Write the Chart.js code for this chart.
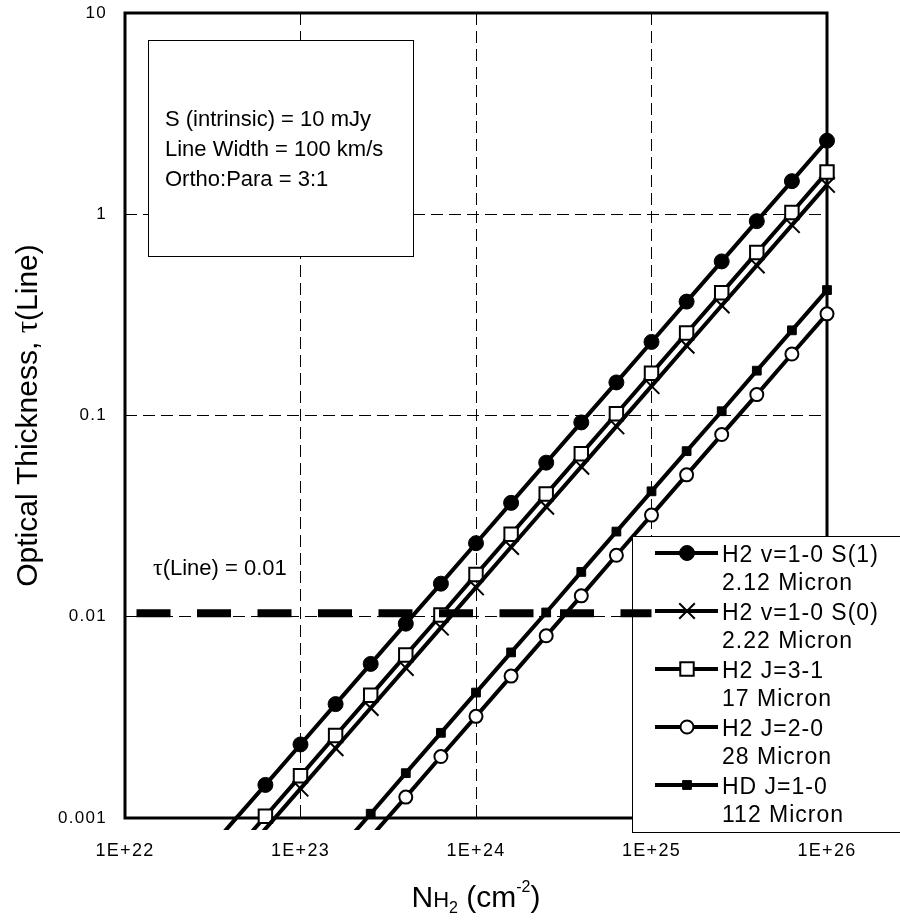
<!DOCTYPE html>
<html>
<head>
<meta charset="utf-8">
<script src="https://cdn.jsdelivr.net/npm/chart.js@4/dist/chart.umd.min.js"></script>
<style>
html,body{margin:0;padding:0;background:#fff;}
#wrap{width:900px;height:920px;position:relative;}
</style>
</head>
<body>
<div id="wrap"><canvas id="c" width="900" height="920"></canvas></div>
<script>
// ---- data ----
const columnDensity = [2.512e22, 3.981e22, 6.310e22, 1.000e23, 1.585e23, 2.512e23, 3.981e23, 6.310e23,
  1.000e24, 1.585e24, 2.512e24, 3.981e24, 6.310e24, 1.000e25, 1.585e25, 2.512e25, 3.981e25, 6.310e25, 1.000e26];
const tauS1  = [0.000583, 0.000924, 0.00146, 0.00232, 0.00368, 0.00583, 0.00924, 0.0146, 0.0232, 0.0368,
  0.0583, 0.0924, 0.146, 0.232, 0.368, 0.583, 0.924, 1.46, 2.32];
const tauS0  = [null, 0.000557, 0.000883, 0.00140, 0.00222, 0.00352, 0.00557, 0.00883, 0.0140, 0.0222,
  0.0352, 0.0557, 0.0883, 0.140, 0.222, 0.352, 0.557, 0.883, 1.40];
const tauJ31 = [null, 0.000645, 0.00102, 0.00162, 0.00257, 0.00407, 0.00645, 0.0102, 0.0162, 0.0257,
  0.0407, 0.0645, 0.102, 0.162, 0.257, 0.407, 0.645, 1.02, 1.62];
const tauJ20 = [null, null, null, null, null, 0.000804, 0.00127, 0.00202, 0.0032, 0.00507,
  0.00804, 0.0127, 0.0202, 0.032, 0.0507, 0.0804, 0.127, 0.202, 0.32];
const tauHD  = [null, null, null, null, 0.000665, 0.00105, 0.00167, 0.00265, 0.0042, 0.00665,
  0.0105, 0.0167, 0.0265, 0.042, 0.0665, 0.105, 0.167, 0.265, 0.42];
const seriesLabels = [
  ["H2 v=1-0 S(1)", "2.12 Micron"],
  ["H2 v=1-0 S(0)", "2.22 Micron"],
  ["H2 J=3-1", "17 Micron"],
  ["H2 J=2-0", "28 Micron"],
  ["HD J=1-0", "112 Micron"]
];
const thresholdN = [1e22, 1e25];
const thresholdTau = [0.0104, 0.0104];
const thresholdLabel = "(Line) = 0.01";
const xTicks = [1e22, 1e23, 1e24, 1e25, 1e26];
const xTickLabels = ["1E+22", "1E+23", "1E+24", "1E+25", "1E+26"];
const yTicks = [0.001, 0.01, 0.1, 1, 10];
const yTickLabels = ["0.001", "0.01", "0.1", "1", "10"];
const infoLines = ["S (intrinsic) = 10 mJy", "Line Width = 100 km/s", "Ortho:Para = 3:1"];
const yTitleParts = ["Optical Thickness, ", "\u03C4", "(Line)"];

// ---- styles ----
const SANS = "'Liberation Sans', Arial, sans-serif";
const SERIF = "'Liberation Serif', 'Times New Roman', serif";
const markerStyles = [
  {pointStyle: 'circle',   radius: 7.5, bg: '#000', bw: 1},
  {pointStyle: 'crossRot', radius: 11, bg: '#000', bw: 2},
  {pointStyle: 'rect',     radius: 9.5, bg: '#fff', bw: 2},
  {pointStyle: 'circle',   radius: 6.5, bg: '#fff', bw: 2},
  {pointStyle: 'rect',     radius: 6.2, bg: '#000', bw: 1}
];
const seriesValues = [tauS1, tauS0, tauJ31, tauJ20, tauHD];

const datasets = seriesValues.map((vals, i) => {
  const m = markerStyles[i];
  return {
    label: seriesLabels[i].join(' '),
    data: columnDensity.map((n, k) => ({x: n, y: vals[k]})),
    borderColor: '#000',
    borderWidth: 4,
    backgroundColor: m.bg,
    pointStyle: m.pointStyle,
    pointRadius: ctx => (ctx.raw && ctx.raw.y !== null && ctx.raw.y < 0.001) ? 0 : m.radius,
    pointBorderWidth: m.bw,
    pointBorderColor: '#000',
    pointBackgroundColor: m.bg,
    tension: 0,
    order: 1,
    clip: {left: 0, top: 0, right: 10, bottom: 12}
  };
});
const thresholdIndex = datasets.length;
datasets.push({
  label: 'threshold',
  data: thresholdN.map((n, k) => ({x: n, y: thresholdTau[k]})),
  borderColor: '#000',
  borderWidth: 8,
  borderDash: [34, 26.5],
  borderDashOffset: 49,
  pointRadius: 0,
  order: 0,
  clip: {left: 0, top: 0, right: 0, bottom: 0}
});

function drawLegend(chart) {
  const ctx = chart.ctx;
  ctx.save();
  ctx.fillStyle = '#fff';
  ctx.fillRect(632, 536, 290, 296);
  ctx.strokeStyle = '#000';
  ctx.lineWidth = 1;
  ctx.strokeRect(632.5, 536.5, 290, 296);
  for (let i = 0; i < seriesLabels.length; i++) {
    const y = 553 + i * 58;
    const m = markerStyles[i];
    ctx.beginPath();
    ctx.strokeStyle = '#000';
    ctx.lineWidth = 4;
    ctx.setLineDash([]);
    ctx.moveTo(655, y);
    ctx.lineTo(718, y);
    ctx.stroke();
    ctx.fillStyle = m.bg;
    ctx.strokeStyle = '#000';
    ctx.lineWidth = m.bw;
    Chart.helpers.drawPoint(ctx, {pointStyle: m.pointStyle, radius: m.radius, rotation: 0, borderWidth: m.bw}, 687, y);
    ctx.fillStyle = '#000';
    ctx.font = '23px ' + SANS;
    ctx.letterSpacing = '1px';
    ctx.textAlign = 'left';
    ctx.textBaseline = 'alphabetic';
    ctx.fillText(seriesLabels[i][0], 722, y + 9);
    ctx.fillText(seriesLabels[i][1], 722, y + 37);
  }
  ctx.restore();
}

const decorPlugin = {
  id: 'decor',
  beforeDraw(chart) {
    // slightly wider spacing for the tick labels, as in the original
    chart.ctx.letterSpacing = '1.3px';
  },
  beforeDatasetsDraw(chart) {
    const ctx = chart.ctx;
    ctx.letterSpacing = '0px';
    const a = chart.chartArea;
    ctx.save();
    // info box
    ctx.fillStyle = '#fff';
    ctx.fillRect(148, 40, 265, 216);
    ctx.strokeStyle = '#000';
    ctx.lineWidth = 1;
    ctx.strokeRect(148.5, 40.5, 265, 216);
    ctx.fillStyle = '#000';
    ctx.font = '22px ' + SANS;
    ctx.textAlign = 'left';
    ctx.textBaseline = 'alphabetic';
    infoLines.forEach((t, i) => ctx.fillText(t, 165, 126 + i * 30));
    // threshold annotation
    ctx.font = '24px ' + SERIF;
    ctx.fillText('\u03C4', 153, 575);
    const tw = ctx.measureText('\u03C4').width;
    ctx.font = '22px ' + SANS;
    ctx.fillText(thresholdLabel, 153 + tw, 575);
    // frame
    ctx.strokeStyle = '#000';
    ctx.lineWidth = 3;
    ctx.strokeRect(a.left, a.top, a.right - a.left, a.bottom - a.top);
    ctx.restore();
  },
  beforeDatasetDraw(chart, args) {
    if (args.index === thresholdIndex) drawLegend(chart);
  },
  afterDraw(chart) {
    const ctx = chart.ctx;
    const a = chart.chartArea;
    ctx.save();
    ctx.letterSpacing = '0px';
    ctx.fillStyle = '#000';
    ctx.textBaseline = 'alphabetic';
    // y title (rotated)
    const fonts = ['30px ' + SANS, '31px ' + SERIF, '30px ' + SANS];
    let widths = yTitleParts.map((t, i) => { ctx.font = fonts[i]; return ctx.measureText(t).width; });
    const total = widths.reduce((s, w) => s + w, 0);
    ctx.translate(37, (a.top + a.bottom) / 2);
    ctx.rotate(-Math.PI / 2);
    ctx.textAlign = 'left';
    let px = -total / 2;
    yTitleParts.forEach((t, i) => { ctx.font = fonts[i]; ctx.fillText(t, px, 0); px += widths[i]; });
    ctx.setTransform(1, 0, 0, 1, 0, 0);
    // x title: N H2 (cm-2)
    const parts = [
      {t: 'N', f: '30px ' + SANS, dy: 0},
      {t: 'H', f: '22px ' + SANS, dy: 0},
      {t: '2', f: '16px ' + SANS, dy: 6},
      {t: ' (cm', f: '30px ' + SANS, dy: 0},
      {t: '-2', f: '16px ' + SANS, dy: -15},
      {t: ')', f: '30px ' + SANS, dy: 0}
    ];
    let tot = 0;
    parts.forEach(p => { ctx.font = p.f; p.w = ctx.measureText(p.t).width; tot += p.w; });
    let x = (a.left + a.right) / 2 - tot / 2;
    parts.forEach(p => { ctx.font = p.f; ctx.fillText(p.t, x, 907 + p.dy); x += p.w; });
    ctx.restore();
  }
};

const gridColor = (ticksArr) => (c) => {
  const v = c.tick ? c.tick.value : null;
  if (v === ticksArr[0] || v === ticksArr[ticksArr.length - 1]) return 'rgba(0,0,0,0)';
  return '#000';
};

new Chart(document.getElementById('c'), {
  type: 'line',
  data: {datasets},
  options: {
    responsive: false,
    animation: false,
    devicePixelRatio: 1,
    layout: {padding: {left: 0, right: 73, top: 12, bottom: 0}},
    plugins: {legend: {display: false}, tooltip: {enabled: false}},
    scales: {
      x: {
        type: 'logarithmic',
        min: 1e22, max: 1e26,
        afterBuildTicks: s => { s.ticks = xTicks.map(v => ({value: v})); },
        afterFit: s => { s.height = 102; s.paddingLeft = 0; s.paddingRight = 0; s.paddingTop = 0; s.paddingBottom = 0; },
        ticks: {
          callback: (v, i) => xTickLabels[i],
          font: {family: SANS, size: 18},
          color: '#000',
          padding: 22,
          maxRotation: 0,
          autoSkip: false
        },
        grid: {color: gridColor(xTicks), lineWidth: 1, drawTicks: false},
        border: {display: false, dash: [12, 6]}
      },
      y: {
        type: 'logarithmic',
        min: 0.001, max: 10,
        afterBuildTicks: s => { s.ticks = yTicks.map(v => ({value: v})); },
        afterFit: s => { s.width = 125; s.paddingTop = 0; s.paddingBottom = 0; s.paddingLeft = 0; s.paddingRight = 0; },
        ticks: {
          callback: (v, i) => yTickLabels[i],
          font: {family: SANS, size: 17},
          color: '#000',
          padding: 18,
          autoSkip: false
        },
        grid: {color: gridColor(yTicks), lineWidth: 1, drawTicks: false},
        border: {display: false, dash: [12, 6]}
      }
    }
  },
  plugins: [decorPlugin]
});
</script>
</body>
</html>
